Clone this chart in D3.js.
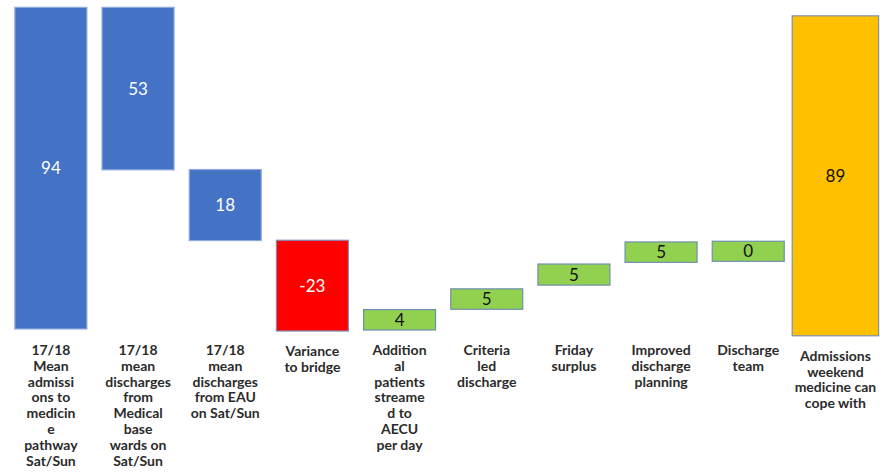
<!DOCTYPE html>
<html>
<head>
<meta charset="utf-8">
<script src="https://cdn.jsdelivr.net/npm/d3@7"></script>
<style>
  body { margin: 0; background: #fff; }
  svg { display: block; }
</style>
</head>
<body>
<svg id="chart"></svg>
<script>
// categories (each one is a list of wrapped lines, as on the slide)
const categories = [
  ['17/18', 'Mean', 'admissi', 'ons to', 'medicin', 'e', 'pathway', 'Sat/Sun'],
  ['17/18', 'mean', 'discharges', 'from', 'Medical', 'base', 'wards on', 'Sat/Sun'],
  ['17/18', 'mean', 'discharges', 'from EAU', 'on Sat/Sun'],
  ['Variance', 'to bridge'],
  ['Addition', 'al', 'patients', 'streame', 'd to', 'AECU', 'per day'],
  ['Criteria', 'led', 'discharge'],
  ['Friday', 'surplus'],
  ['Improved', 'discharge', 'planning'],
  ['Discharge', 'team'],
  ['Admissions', 'weekend', 'medicine can', 'cope with']
];
// labelled values
const values = [94, 53, 18, -23, 4, 5, 5, 5, 0, 89];
// floating bar extents (chart units)
const lows  = [0.3, 47.1, 26.3, -0.3, 0.0, 6.1, 13.2, 19.9, 20.2, -1.7];
const highs = [94.9, 94.9, 47.2, 26.4, 6.0, 12.1, 19.4, 25.9, 26.1, 92.4];
// bar kind -> colour
const kinds = ['base', 'base', 'base', 'gap', 'gain', 'gain', 'gain', 'gain', 'gain', 'total'];

const fills = { base: '#4472C4', gap: '#FF0000', gain: '#92D050', total: '#FFC000' };
const strokes = { base: '#8FAADC', gap: '#7F8FB8', gain: '#6F8FAF', total: '#7F8FAF' };
const textFill = { base: '#ffffff', gap: '#ffffff', gain: '#111111', total: '#111111' };

const W = 886, H = 472;
const svg = d3.select('#chart').attr('width', W).attr('height', H);

const data = values.map((v, i) => ({
  i, value: v, lines: categories[i], low: lows[i], high: highs[i], kind: kinds[i]
}));

const x = d3.scaleBand()
  .domain(d3.range(data.length))
  .range([7.3, 879])
  .paddingInner(0.174)
  .paddingOuter(0.087);

const y = d3.scaleLinear().domain([0, 100]).range([330, -10]);

const widthOf = d => d.kind === 'total' ? x.bandwidth() * 1.2 : x.bandwidth();
const cx = d => x(d.i) + x.bandwidth() / 2;

// bars
svg.append('g').selectAll('rect')
  .data(data)
  .join('rect')
  .attr('x', d => cx(d) - widthOf(d) / 2)
  .attr('y', d => y(d.high))
  .attr('width', widthOf)
  .attr('height', d => y(d.low) - y(d.high))
  .attr('fill', d => fills[d.kind])
  .attr('stroke', d => strokes[d.kind])
  .attr('stroke-width', 1.2);

// values inside bars
svg.append('g').selectAll('text')
  .data(data)
  .join('text')
  .attr('x', cx)
  .attr('y', d => (y(d.high) + y(d.low)) / 2)
  .attr('dy', '0.36em')
  .attr('text-anchor', 'middle')
  .attr('font-family', 'Lato, "Open Sans", sans-serif')
  .attr('font-size', 17)
  .attr('fill', d => textFill[d.kind])
  .text(d => d.value);

// category labels under the bars
const lineH = 15.8;
const lab = svg.append('g').selectAll('text')
  .data(data)
  .join('text')
  .attr('text-anchor', 'middle')
  .attr('font-family', 'Lato, "Open Sans", sans-serif')
  .attr('font-weight', 'bold')
  .attr('font-size', 14)
  .attr('fill', '#2b2b2b')
  .attr('transform', d => `translate(${cx(d)},${Math.max(y(d.low), y(0)) + 20})`);

lab.selectAll('tspan')
  .data(d => d.lines)
  .join('tspan')
  .attr('x', 0)
  .attr('y', (l, j) => j * lineH)
  .attr('dy', '0.36em')
  .text(l => l);
</script>
</body>
</html>
